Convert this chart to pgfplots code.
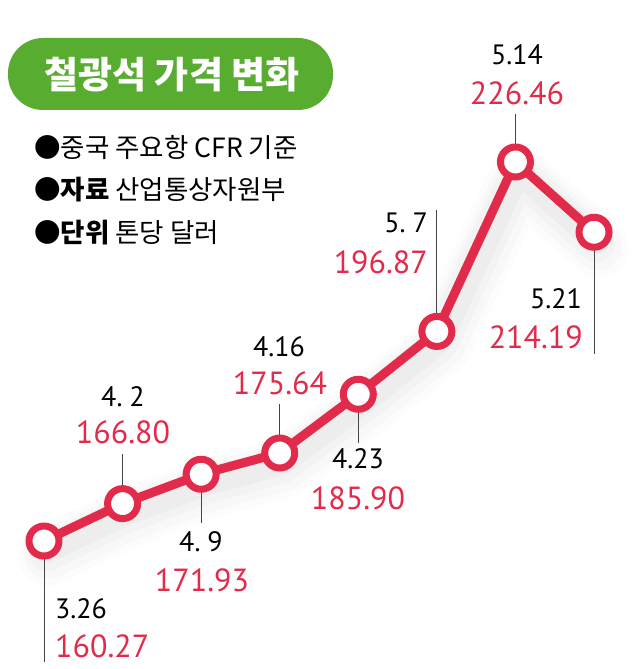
\documentclass[border=0pt]{standalone}
\usepackage{pgfplots}
\usepackage{pgfplotstable}
\pgfplotsset{compat=1.18}
\usepackage{fontspec}
\setmainfont{PT Sans}
\newfontfamily\kr{Noto Sans CJK KR}
\definecolor{cred}{RGB}{226,42,74}
\definecolor{cgreen}{RGB}{88,172,48}
\definecolor{lead}{RGB}{70,70,70}
\pgfplotstableread{
x y
0 160.27
1 166.80
2 171.93
3 175.64
4 185.90
5 196.87
6 226.46
7 214.19
}\data
\begin{document}
\begin{tikzpicture}
\begin{axis}[
  anchor=south west, at={(0pt,0pt)},
  scale only axis, width=640pt, height=669pt,
  xmin=-0.56, xmax=7.585, ymin=137.92, ymax=254.75,
  hide axis, clip=false,
]
\path (rel axis cs:0,0) rectangle (rel axis cs:1,1);
% shadow
\addplot[draw=black, opacity=0.012, line width=60pt, line join=round, line cap=round, yshift=-15pt, xshift=4pt] table {\data};
\addplot[draw=black, opacity=0.015, line width=48pt, line join=round, line cap=round, yshift=-14pt, xshift=4pt] table {\data};
\addplot[draw=black, opacity=0.018, line width=36pt, line join=round, line cap=round, yshift=-12pt, xshift=3pt] table {\data};
\addplot[draw=black, opacity=0.022, line width=24pt, line join=round, line cap=round, yshift=-10pt, xshift=3pt] table {\data};
% leader lines
\draw[lead, line width=1pt] (axis cs:0,160.27) -- ([yshift=-121pt]axis cs:0,160.27);
\draw[lead, line width=1pt] (axis cs:1,166.80) -- ([yshift=50pt]axis cs:1,166.80);
\draw[lead, line width=1pt] (axis cs:2,171.93) -- ([yshift=-49pt]axis cs:2,171.93);
\draw[lead, line width=1pt] (axis cs:3,175.64) -- ([yshift=49pt]axis cs:3,175.64);
\draw[lead, line width=1pt] (axis cs:4,185.90) -- ([yshift=-49pt]axis cs:4,185.90);
\draw[lead, line width=1pt] (axis cs:5,196.87) -- ([yshift=121pt]axis cs:5,196.87);
\draw[lead, line width=1pt] (axis cs:6,226.46) -- ([yshift=48pt]axis cs:6,226.46);
\draw[lead, line width=1pt] (axis cs:7,214.19) -- ([yshift=-122pt]axis cs:7,214.19);
% main line
\addplot[cred, line width=9pt, line join=round, mark=*, mark size=15pt,
  mark options={fill=white, draw=cred, line width=7pt}] table {\data};
\end{axis}
\begin{scope}[x=1pt, y=1pt]
\fill[cgreen, rounded corners=35pt] (8,669-110) rectangle (333,669-38);
\node[white, inner sep=0] at (172,669-75) {\kr\bfseries\fontsize{37}{42}\selectfont 철광석 가격 변화};
\node[anchor=west, inner sep=0] at (34,669-147) {\kr\fontsize{26.5}{30}\selectfont ●중국 주요항 CFR 기준};
\node[anchor=west, inner sep=0] at (34,669-190) {\kr\fontsize{26.5}{30}\selectfont ●{\bfseries 자료} 산업통상자원부};
\node[anchor=west, inner sep=0] at (34,669-233) {\kr\fontsize{26.5}{30}\selectfont ●{\bfseries 단위} 톤당 달러};
\tikzset{bl/.style={inner sep=0, black, font=\fontsize{28}{30}\selectfont},
         rd/.style={inner sep=0, cred, font=\fontsize{32}{34}\selectfont}}
\node[bl, anchor=west] at (55,669-609) {3.26};
\node[rd, anchor=west] at (55,669-646) {160.27};
\node[bl] at (123,669-397) {4.\hspace{7pt}2};
\node[rd] at (123,669-432) {166.80};
\node[bl] at (201,669-542) {4.\hspace{7pt}9};
\node[rd] at (202,669-580) {171.93};
\node[bl] at (279,669-347) {4.16};
\node[rd] at (280,669-383) {175.64};
\node[bl] at (358,669-459) {4.23};
\node[rd] at (358,669-498) {185.90};
\node[bl, anchor=east] at (428,669-223) {5.\hspace{7pt}7};
\node[rd, anchor=east] at (428,669-262) {196.87};
\node[bl] at (517,669-55) {5.14};
\node[rd] at (517,669-93) {226.46};
\node[bl, anchor=east] at (582,669-299) {5.21};
\node[rd, anchor=east] at (583,669-337) {214.19};
\end{scope}
\end{tikzpicture}
\end{document}
